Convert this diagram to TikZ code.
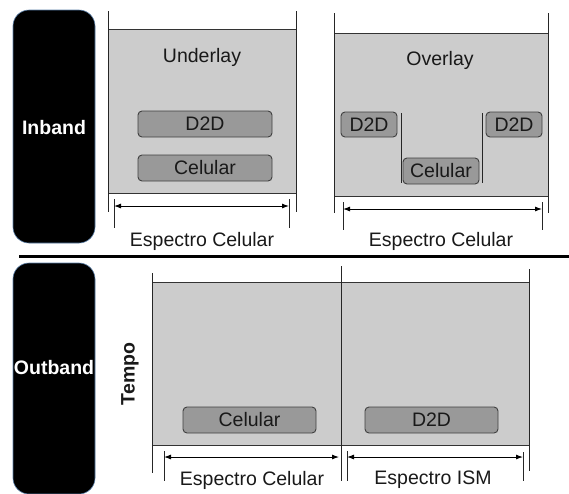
\documentclass[tikz,border=0pt]{standalone}
\usepackage{fontspec}
\setmainfont{Liberation Sans}
\usetikzlibrary{arrows.meta}
\definecolor{bandfill}{HTML}{CCCCCC}
\definecolor{slotfill}{HTML}{999999}
\definecolor{modeedge}{HTML}{5A7FA8}
\tikzset{
  txt/.style={font=\fontsize{19.5}{22}\selectfont, text=black!90, inner sep=0pt},
  boldtxt/.style={txt, font=\fontsize{19.5}{22}\selectfont\bfseries},
  region/.style={draw=black!80, fill=bandfill, line width=0.8pt},
  slot/.style={txt, draw=black!75, fill=slotfill, rounded corners=4pt, line width=0.9pt},
  modebox/.style={fill=black, draw=modeedge, rounded corners=16pt, line width=0.6pt},
  guide/.style={draw=black!85, line width=0.8pt},
  span/.style={draw=black, line width=0.9pt, {Latex[length=7pt,width=5pt]}-{Latex[length=7pt,width=5pt]}},
}
\begin{document}
\begin{tikzpicture}[x=1pt,y=-1pt]
\useasboundingbox (0,0) rectangle (569,493);

% ---------- mode labels ----------
\path[modebox] (13,10) rectangle (95,243);
\node[boldtxt, text=white] (inband) at (54,128) {Inband};
\path[modebox] (13,263) rectangle (95,494);
\node[boldtxt, text=white] (outband) at (54,368) {Outband};

% separator between inband and outband
\draw[line width=3pt] (19,256) -- (569,256);

% ---------- Underlay ----------
\path[region] (108,29) rectangle (296,193);
\draw[guide] (108,11) -- (108,212);
\draw[guide] (296,11) -- (296,212);
\node[txt] (under) at (202,57) {Underlay};
\node[slot, minimum width=134pt, minimum height=26pt] (uD2D) at (205,124) {D2D};
\node[slot, minimum width=134pt, minimum height=26pt] (uCel) at (205,168) {Celular};
\coordinate (uL) at (114,206);
\coordinate (uR) at (289,206);
\draw[guide] (114,199) -- (114,228);
\draw[guide] (289,199) -- (289,228);
\draw[span] (uL) -- (uR);
\node[txt] (uSpec) at (202,241) {Espectro Celular};

% ---------- Overlay ----------
\path[region] (334,33) rectangle (548,196);
\draw[guide] (334,13) -- (334,213);
\draw[guide] (548,13) -- (548,213);
\node[txt] (over) at (440,60) {Overlay};
\draw[guide] (401,113) -- (401,183);
\draw[guide] (482,113) -- (482,183);
\node[slot, minimum width=56pt, minimum height=25pt] (oD2Da) at (369,124.5) {D2D};
\node[slot, minimum width=56pt, minimum height=25pt] (oD2Db) at (514,124.5) {D2D};
\node[slot, minimum width=76pt, minimum height=26pt] (oCel) at (441,171) {Celular};
\coordinate (oL) at (343,209);
\coordinate (oR) at (542,209);
\draw[guide] (343,202) -- (343,230);
\draw[guide] (542,202) -- (542,230);
\draw[span] (oL) -- (oR);
\node[txt] (oSpec) at (441,241) {Espectro Celular};

% ---------- Outband ----------
\path[region] (152,282) rectangle (341,445);
\path[region] (341,282) rectangle (529,445);
\draw[guide] (152,273) -- (152,473);
\draw[guide] (341,266) -- (341,481);
\draw[guide] (529,269) -- (529,471);
\node[boldtxt, rotate=90] (tempo) at (130,374) {Tempo};
\node[slot, minimum width=133pt, minimum height=26pt] (bCel) at (249.5,420) {Celular};
\node[slot, minimum width=133pt, minimum height=26pt] (bD2D) at (431.5,420) {D2D};
\coordinate (cL) at (164,457);
\coordinate (cR) at (339,457);
\coordinate (iL) at (347,457);
\coordinate (iR) at (523,457);
\draw[guide] (164,451) -- (164,481);
\draw[guide] (347,451) -- (347,481);
\draw[guide] (523,452) -- (523,481);
\draw[span] (cL) -- (cR);
\draw[span] (iL) -- (iR);
\node[txt] (cSpec) at (252,480) {Espectro Celular};
\node[txt] (iSpec) at (433,480) {Espectro ISM};
\end{tikzpicture}
\end{document}
